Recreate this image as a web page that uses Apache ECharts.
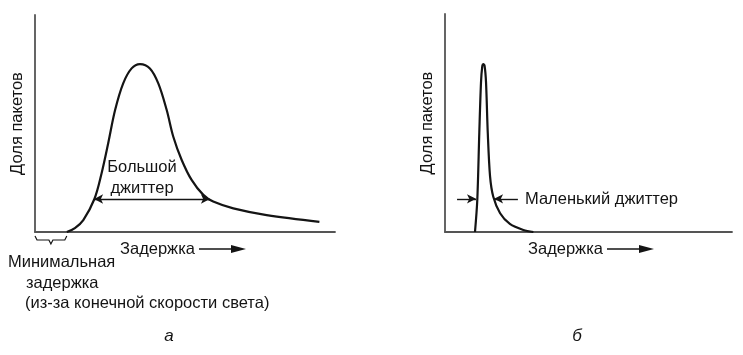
<!DOCTYPE html>
<html><head><meta charset="utf-8">
<script src="https://cdn.jsdelivr.net/npm/echarts@6/dist/echarts.min.js"></script>
<style>html,body{margin:0;padding:0;background:#fff}#c{width:743px;height:355px}</style>
</head><body><div id="c"></div>
<script>
// Panel а: large jitter
const curveA_x = [10.6, 13.3, 16.1, 19.8, 22.2, 24.4, 26.7, 29.4, 32.2, 35.0, 38.3, 41.1, 43.9, 46.1, 48.9, 52.2, 56.1, 59.4, 66.1, 77.2, 94.8];
const curveA_y = [0, 1.8, 5.5, 15.2, 27.1, 40.9, 56.2, 68.5, 75.4, 77.4, 75.4, 68.5, 56.2, 43.9, 33.2, 24.0, 17.1, 14.0, 10.9, 7.8, 4.7];
const minDelayA = 10.6;
const jitterA = [19.7, 58.3];
const jitterA_y = 15.2;

// Panel б: small jitter
const curveB_x = [10.45, 11.25, 11.95, 12.54, 13.0, 13.34, 13.8, 14.3, 14.9, 15.7, 16.8, 19.2, 22.6, 27.3, 30.8];
const curveB_y = [0, 14.7, 45.5, 68.5, 76.2, 77.0, 76.2, 68.5, 45.5, 25.5, 16.3, 8.6, 3.7, 0.9, 0];
const jitterB_left = [4.2, 10.8];
const jitterB_right = [25.4, 17.1];
const jitterB_y = 15.2;

// Texts
const yLabel = 'Доля пакетов';
const xLabel = 'Задержка';
const bigJitter = 'Большой\nджиттер';
const smallJitter = 'Маленький джиттер';
const minDelayText = ['Минимальная', 'задержка', '(из-за конечной скорости света)'];
const panelLabels = ['а', 'б'];

const FONT = '"Liberation Sans", Arial, sans-serif';
const INK = '#141414';
const AXIS = '#555';
const FS = 16.5;

const chart = echarts.init(document.getElementById('c'), null, {renderer: 'canvas'});

function xAx(i) {
  return {type: 'value', gridIndex: i, min: 0, max: 100,
    axisLine: {show: true, onZero: false, lineStyle: {color: AXIS, width: 1.8}},
    axisTick: {show: false}, axisLabel: {show: false}, splitLine: {show: false}};
}
function yAx(i) {
  return {type: 'value', gridIndex: i, min: 0, max: 100,
    name: yLabel, nameLocation: 'middle', nameRotate: 90, nameGap: 9,
    nameTextStyle: {fontFamily: FONT, fontSize: FS, color: INK},
    axisLine: {show: true, onZero: false, lineStyle: {color: AXIS, width: 1.8}},
    axisTick: {show: false}, axisLabel: {show: false}, splitLine: {show: false}};
}
const arrowLine = {symbol: ['none', 'arrow'], symbolSize: [7, 9], silent: true,
  lineStyle: {color: INK, width: 1.4, type: 'solid'}, label: {show: false}};

chart.setOption({
  animation: false,
  grid: [
    {left: 35, top: 15, width: 300, height: 217},
    {left: 445, top: 14, width: 287, height: 218}
  ],
  xAxis: [xAx(0), xAx(1)],
  yAxis: [yAx(0), yAx(1)],
  series: [
    {type: 'line', xAxisIndex: 0, yAxisIndex: 0, smooth: 0.35, showSymbol: false,
      lineStyle: {color: INK, width: 2.2},
      data: curveA_x.map((x, i) => [x, curveA_y[i]]),
      markLine: Object.assign({}, arrowLine, {symbol: ['arrow', 'arrow'],
        data: [[{coord: [jitterA[0], jitterA_y]}, {coord: [jitterA[1], jitterA_y]}]]})
    },
    {type: 'line', xAxisIndex: 1, yAxisIndex: 1, smooth: 0.3, showSymbol: false,
      lineStyle: {color: INK, width: 2.2},
      data: curveB_x.map((x, i) => [x, curveB_y[i]]),
      markLine: Object.assign({}, arrowLine, {
        data: [
          [{coord: [jitterB_left[0], jitterB_y]}, {coord: [jitterB_left[1], jitterB_y]}],
          [{coord: [jitterB_right[0], jitterB_y]}, {coord: [jitterB_right[1], jitterB_y]}]
        ]})
    }
  ]
});

// annotations
const p0 = chart.convertToPixel({gridIndex: 0}, [0, 0]);
const pm = chart.convertToPixel({gridIndex: 0}, [minDelayA, 0]);
const bx0 = p0[0], bx1 = pm[0], by = p0[1] + 4, bm = (bx0 + bx1) / 2;
const ts = (o) => Object.assign({fontFamily: FONT, fontSize: FS, fill: INK}, o);

function delayArrow(x, y) {
  return [
    {type: 'text', x: x, y: y, style: ts({text: xLabel, verticalAlign: 'middle'})},
    {type: 'line', shape: {x1: x + 79, y1: y, x2: x + 117, y2: y}, style: {stroke: INK, lineWidth: 1.5}},
    {type: 'polygon', shape: {points: [[x + 111, y - 4], [x + 126, y], [x + 111, y + 4]]}, style: {fill: INK}}
  ];
}

chart.setOption({
  graphic: [
    {type: 'polyline', shape: {points: [[bx0, by], [bx0 + 2, by + 4], [bm - 2, by + 4], [bm, by + 8],
      [bm + 2, by + 4], [bx1 - 2, by + 4], [bx1, by]]},
      style: {fill: null, stroke: INK, lineWidth: 1.2}},
    {type: 'text', x: 142, y: 178, style: ts({text: bigJitter, align: 'center', verticalAlign: 'middle', lineHeight: 21})},
    {type: 'text', x: 8, y: 262, style: ts({text: minDelayText[0], verticalAlign: 'middle'})},
    {type: 'text', x: 26, y: 283, style: ts({text: minDelayText[1], verticalAlign: 'middle'})},
    {type: 'text', x: 25, y: 303, style: ts({text: minDelayText[2], verticalAlign: 'middle'})},
    ...delayArrow(120, 249),
    ...delayArrow(528, 249),
    {type: 'text', x: 525, y: 199, style: ts({text: smallJitter, verticalAlign: 'middle'})},
    {type: 'text', x: 169, y: 336, style: ts({text: panelLabels[0], align: 'center', verticalAlign: 'middle', fontStyle: 'italic', fontSize: 17})},
    {type: 'text', x: 577, y: 336, style: ts({text: panelLabels[1], align: 'center', verticalAlign: 'middle', fontStyle: 'italic', fontSize: 17})}
  ]
});
</script></body></html>
